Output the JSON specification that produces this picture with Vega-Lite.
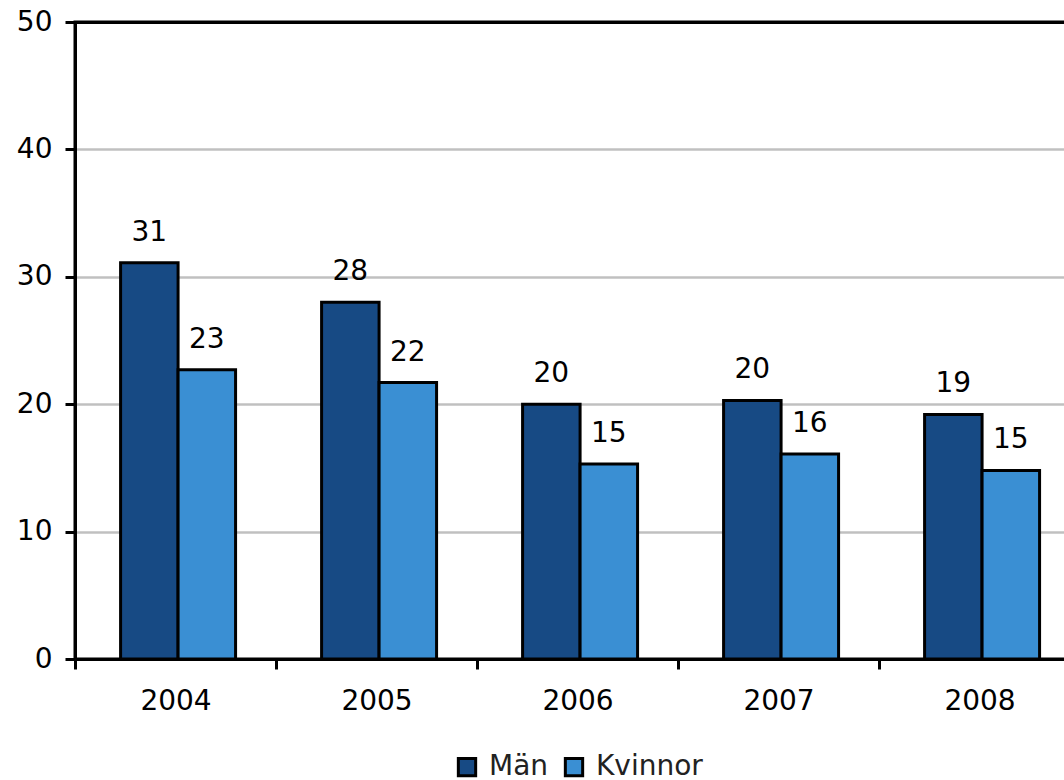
{
  "$schema": "https://vega.github.io/schema/vega-lite/v6.json",
  "autosize": "none",
  "padding": {"left": 75, "top": 22, "right": 0, "bottom": 121},
  "width": 1005,
  "height": 637,
  "background": "white",
  "config": {
    "font": "DejaVu Sans",
    "view": {"stroke": "black", "strokeWidth": 3},
    "axis": {"labelFont": "DejaVu Sans", "labelFontSize": 28, "labelColor": "black"},
    "legend": {"layout": {"bottom": {"anchor": "middle"}}}
  },
  "data": {
    "values": [
      {"year": "2004", "kon": "Män", "value": 31.1},
      {"year": "2004", "kon": "Kvinnor", "value": 22.7},
      {"year": "2005", "kon": "Män", "value": 28.0},
      {"year": "2005", "kon": "Kvinnor", "value": 21.7},
      {"year": "2006", "kon": "Män", "value": 20.0},
      {"year": "2006", "kon": "Kvinnor", "value": 15.3},
      {"year": "2007", "kon": "Män", "value": 20.3},
      {"year": "2007", "kon": "Kvinnor", "value": 16.1},
      {"year": "2008", "kon": "Män", "value": 19.2},
      {"year": "2008", "kon": "Kvinnor", "value": 14.8}
    ]
  },
  "encoding": {
    "x": {
      "field": "year", "type": "nominal",
      "scale": {"paddingInner": 0, "paddingOuter": 0},
      "axis": {
        "title": null, "labelAngle": 0, "tickBand": "extent",
        "domainColor": "black", "domainWidth": 3,
        "tickColor": "black", "tickWidth": 3, "tickSize": 10,
        "labelPadding": 18
      }
    },
    "xOffset": {"field": "kon", "type": "nominal", "sort": ["Män", "Kvinnor"], "scale": {"paddingInner": 0, "paddingOuter": 0.748, "align": 0.53}},
    "y": {
      "field": "value", "type": "quantitative",
      "scale": {"domain": [0, 50], "nice": false},
      "axis": {
        "title": null, "values": [0, 10, 20, 30, 40, 50],
        "domainColor": "black", "domainWidth": 3,
        "tickColor": "black", "tickWidth": 3, "tickSize": 10,
        "labelPadding": 13,
        "gridColor": {"condition": {"test": "datum.value === 50", "value": "black"}, "value": "#c0c0c0"},
        "gridWidth": {"condition": {"test": "datum.value === 50", "value": 3}, "value": 2.5}
      }
    }
  },
  "layer": [
    {
      "mark": {"type": "bar", "stroke": "black", "strokeWidth": 3},
      "encoding": {
        "color": {
          "field": "kon", "type": "nominal",
          "sort": ["Män", "Kvinnor"],
          "scale": {"domain": ["Män", "Kvinnor"], "range": ["#174a84", "#3a8fd3"]},
          "legend": {
            "title": null, "orient": "bottom", "direction": "horizontal",
            "symbolType": "square", "symbolSize": 300,
            "symbolStrokeColor": "black", "symbolStrokeWidth": 3,
            "labelFont": "DejaVu Sans", "labelFontSize": 28, "labelColor": "#222222",
            "labelOffset": 8, "columnPadding": 10, "offset": 38
          }
        }
      }
    },
    {
      "mark": {"type": "text", "baseline": "alphabetic", "dy": -22, "fontSize": 28, "color": "black"},
      "encoding": {
        "text": {"field": "value", "type": "quantitative", "format": ".0f"}
      }
    }
  ]
}
